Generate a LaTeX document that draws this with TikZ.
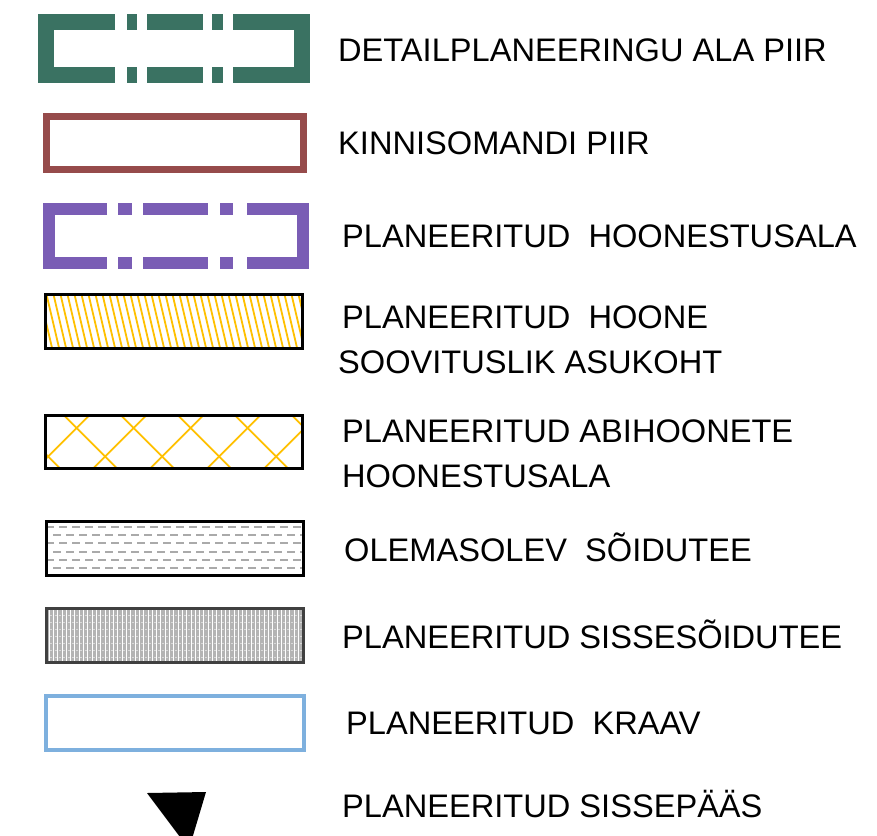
\documentclass[tikz,border=0pt]{standalone}
\usepackage{fontspec}
\setmainfont{Liberation Sans}
\definecolor{dpgreen}{HTML}{3A7262}
\definecolor{kbrown}{HTML}{964B4B}
\definecolor{hpurple}{HTML}{7A5DB5}
\definecolor{hyellow}{HTML}{FFC000}
\definecolor{kblue}{HTML}{7EB0DE}
\definecolor{dgray}{HTML}{AAAAAA}
\definecolor{sgray}{HTML}{B4B4B4}
\begin{document}
\begin{tikzpicture}[x=1pt,y=-1pt,
  lbl/.style={anchor=base west,inner sep=0pt,font=\fontsize{32.6}{40}\selectfont},
  greenline/.style={draw=dpgreen,line width=16pt,miter limit=10},
  purpleline/.style={draw=hpurple,line width=12pt,miter limit=10},
  hatchline/.style={draw=hyellow,line width=1.8pt},
  blackframe/.style={draw=black,line width=3pt}]
\useasboundingbox (0,0) rectangle (877,835);
% 1 green dash-dot boundary
\draw[greenline] (115,22) -- (46,22) -- (46,75) -- (115,75);
\draw[greenline] (233,22) -- (302,22) -- (302,75) -- (233,75);
\foreach \a/\b in {127/137,147/203,212/223}{
  \draw[greenline] (\a,22) -- (\b,22);
  \draw[greenline] (\a,75) -- (\b,75);}
\node[lbl] (t1) at (338,61) {DETAILPLANEERINGU ALA PIIR};
% 2 brown property boundary
\draw[draw=kbrown,line width=7pt] (46.5,116.5) rectangle (303.5,169.5);
\node[lbl] (t2) at (338,154) {KINNISOMANDI PIIR};
% 3 purple dash-dot
\draw[purpleline] (107,209) -- (49,209) -- (49,262.5) -- (107,262.5);
\draw[purpleline] (247,209) -- (302.5,209) -- (302.5,262.5) -- (247,262.5);
\foreach \a/\b in {118/132,143/208,220/233}{
  \draw[purpleline] (\a,209) -- (\b,209);
  \draw[purpleline] (\a,262.5) -- (\b,262.5);}
\node[lbl] (t3) at (342,247) {PLANEERITUD\ \ HOONESTUSALA};
% 4 hatched building
\begin{scope}
\clip (45.5,294.5) rectangle (302.5,348.5);
\foreach \x in {10,17,...,310}{
  \draw[hatchline] (\x,288) -- ({\x+15},352);}
\end{scope}
\draw[blackframe] (45.5,294.5) rectangle (302.5,348.5);
\node[lbl] (t4a) at (342,328) {PLANEERITUD\ \ HOONE};
\node[lbl] (t4b) at (338,373) {SOOVITUSLIK ASUKOHT};
% 5 cross-hatched
\begin{scope}
\clip (45.5,415.5) rectangle (302.5,468.5);
\foreach \k in {-2,...,7}{
  \pgfmathsetmacro{\c}{-351.3+57*\k}
  \draw[hatchline] ({\c+400},400) -- ({\c+490},490);
  \pgfmathsetmacro{\d}{504.7+57*(\k-2)}
  \draw[hatchline] ({\d-400},400) -- ({\d-490},490);}
\end{scope}
\draw[blackframe] (45.5,415.5) rectangle (302.5,468.5);
\node[lbl] (t5a) at (342,442) {PLANEERITUD ABIHOONETE};
\node[lbl] (t5b) at (342,487) {HOONESTUSALA};
% 6 existing road
\begin{scope}
\clip (46.5,521.5) rectangle (303.5,575.5);
\foreach \y/\p in {527/0,535/6,543/0,552/6,560/0,568/6}{
  \draw[dgray,line width=1.2pt,dash pattern=on 8pt off 5pt,dash phase=\p pt] (46,\y) -- (304,\y);}
\end{scope}
\draw[blackframe] (46.5,521.5) rectangle (303.5,575.5);
\node[lbl] (t6) at (344,561) {OLEMASOLEV\ \ SÕIDUTEE};
% 7 planned driveway
\fill[sgray] (46.5,608.5) rectangle (303.5,662.5);
\begin{scope}
\clip (46.5,608.5) rectangle (303.5,662.5);
\foreach \x in {49,53.3,...,303}{
  \draw[white,line width=0.8pt] (\x,606) -- (\x,665);}
\foreach \y in {615,622,...,660}{
  \draw[white,opacity=0.5,line width=0.6pt,dash pattern=on 2pt off 2.3pt] (46,\y) -- (304,\y);}
\end{scope}
\draw[draw=black!75,line width=3pt] (46.5,608.5) rectangle (303.5,662.5);
\node[lbl] (t7) at (342,648) {PLANEERITUD SISSESÕIDUTEE};
% 8 ditch
\draw[draw=kblue,line width=4pt] (46,696) rectangle (304,750);
\node[lbl] (t8) at (346,734) {PLANEERITUD\ \ KRAAV};
% 9 entrance
\begin{scope}
\clip (0,0) rectangle (877,835);
\fill[black] (147,793) -- (206,792) -- (189,849) -- cycle;
\end{scope}
\node[lbl] (t9) at (342,817) {PLANEERITUD SISSEPÄÄS};
\end{tikzpicture}
\end{document}
